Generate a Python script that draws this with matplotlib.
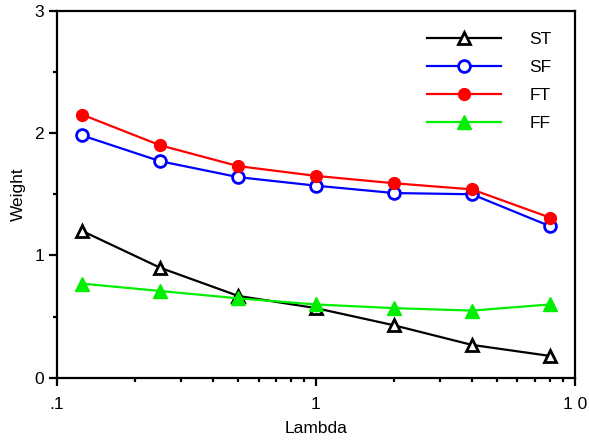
# Weight vs lambda, four series on log x axis

import matplotlib
matplotlib.use("Agg")
import matplotlib.pyplot as plt
from matplotlib.ticker import FixedLocator, NullFormatter, FixedFormatter

plt.rcParams['font.family'] = ['Liberation Sans', 'DejaVu Sans']

lam = [0.125, 0.25, 0.5, 1, 2, 4, 8]
st = [1.20, 0.90, 0.67, 0.57, 0.43, 0.27, 0.18]
sf = [1.98, 1.77, 1.64, 1.57, 1.51, 1.50, 1.24]
ft = [2.15, 1.90, 1.73, 1.65, 1.59, 1.54, 1.31]
ff = [0.77, 0.71, 0.65, 0.60, 0.57, 0.55, 0.60]

fig = plt.figure(figsize=(5.89, 4.41), dpi=100)
ax = fig.add_axes([0.097, 0.143, 0.879, 0.833])

ms = 8.5
ax.plot(lam, st, color='black', lw=1.6, marker='^', ms=ms, mfc='white', mec='black', mew=2, label='ST')
ax.plot(lam, sf, color='blue', lw=1.6, marker='o', ms=ms, mfc='white', mec='blue', mew=2, label='SF')
ax.plot(lam, ft, color='red', lw=1.6, marker='o', ms=ms, mfc='red', mec='red', label='FT')
ax.plot(lam, ff, color='#00ee00', lw=1.6, marker='^', ms=ms + 1.5, mfc='#00ee00', mec='#00ee00', label='FF')

ax.set_xscale('log')
ax.set_xlim(0.1, 10)
ax.set_ylim(0, 3)
ax.xaxis.set_major_locator(FixedLocator([0.1, 1, 10]))
ax.xaxis.set_major_formatter(FixedFormatter(['.1', '1', '1 0']))
ax.xaxis.set_minor_locator(FixedLocator([0.2, 0.3, 0.4, 0.5, 0.6, 0.7, 0.8, 0.9,
                                         2, 3, 4, 5, 6, 7, 8, 9]))
ax.xaxis.set_minor_formatter(NullFormatter())
ax.set_yticks([0, 1, 2, 3])
ax.yaxis.set_minor_locator(FixedLocator([0.5, 1.5, 2.5]))

for s in ax.spines.values():
    s.set_linewidth(1.6)
ax.tick_params(which='major', direction='out', length=6, width=1.6, labelsize=12.5)
ax.tick_params(axis='x', which='major', pad=8)
ax.tick_params(which='minor', direction='out', length=3, width=1.6)

ax.set_xlabel('Lambda', fontsize=12.5, labelpad=6)
ax.set_ylabel('Weight', fontsize=12.5, labelpad=6)

leg = ax.legend(loc='upper right', frameon=False, fontsize=12.5, handlelength=4.3,
                handletextpad=1.6, labelspacing=0.75, bbox_to_anchor=(0.985, 0.985))

fig.savefig('out.png', dpi=100)
